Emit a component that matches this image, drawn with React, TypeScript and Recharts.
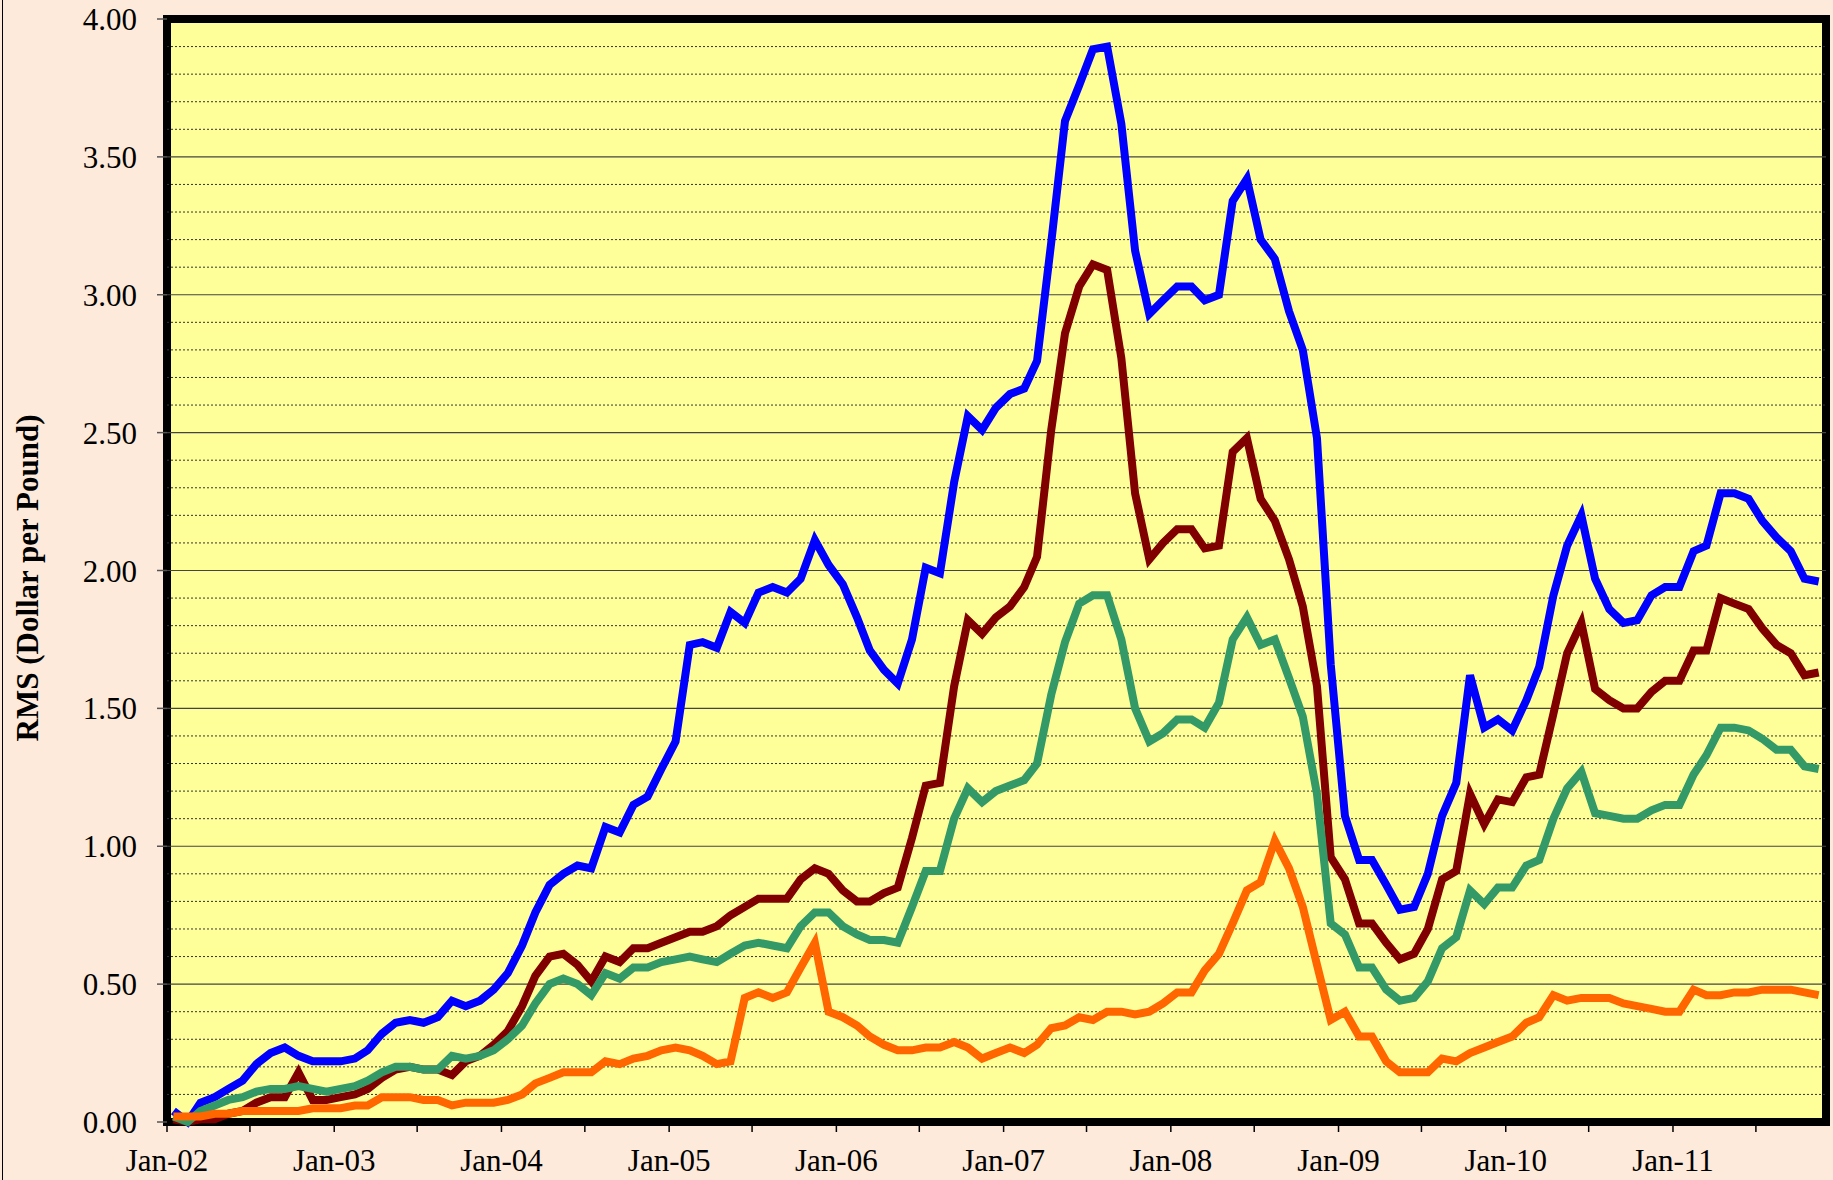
import { LineChart, Line, XAxis, YAxis, CartesianGrid, Label, ReferenceLine, ReferenceArea } from 'recharts'

const W = 1833
const H = 1180
const FONT = '"Times New Roman", "Liberation Serif", serif'

// monthly values, Jan-02 .. Nov-11 (one row per year)
const blueSeries = [
  0.04, 0.0, 0.07, 0.09, 0.12, 0.15, 0.21, 0.25, 0.27, 0.24, 0.22, 0.22,
  0.22, 0.23, 0.26, 0.32, 0.36, 0.37, 0.36, 0.38, 0.44, 0.42, 0.44, 0.48,
  0.54, 0.64, 0.76, 0.86, 0.9, 0.93, 0.92, 1.07, 1.05, 1.15, 1.18, 1.28,
  1.38, 1.73, 1.74, 1.72, 1.85, 1.81, 1.92, 1.94, 1.92, 1.97, 2.11, 2.02,
  1.95, 1.83, 1.71, 1.64, 1.59, 1.75, 2.01, 1.99, 2.32, 2.56, 2.51, 2.59,
  2.64, 2.66, 2.76, 3.19, 3.63, 3.76, 3.89, 3.9, 3.62, 3.16, 2.93, 2.98,
  3.03, 3.03, 2.98, 3.0, 3.34, 3.42, 3.2, 3.13, 2.94, 2.8, 2.48, 1.66,
  1.11, 0.95, 0.95, 0.86, 0.77, 0.78, 0.9, 1.11, 1.23, 1.62, 1.43, 1.46,
  1.42, 1.53, 1.65, 1.91, 2.09, 2.2, 1.97, 1.86, 1.81, 1.82, 1.91, 1.94,
  1.94, 2.07, 2.09, 2.28, 2.28, 2.26, 2.18, 2.12, 2.07, 1.97, 1.96,
]

const maroonSeries = [
  0.01, 0.0, 0.01, 0.01, 0.03, 0.04, 0.07, 0.09, 0.09, 0.18, 0.08, 0.08,
  0.09, 0.1, 0.12, 0.16, 0.19, 0.2, 0.19, 0.19, 0.17, 0.22, 0.24, 0.28,
  0.33, 0.42, 0.53, 0.6, 0.61, 0.57, 0.51, 0.6, 0.58, 0.63, 0.63, 0.65,
  0.67, 0.69, 0.69, 0.71, 0.75, 0.78, 0.81, 0.81, 0.81, 0.88, 0.92, 0.9,
  0.84, 0.8, 0.8, 0.83, 0.85, 1.03, 1.22, 1.23, 1.58, 1.82, 1.77, 1.83,
  1.87, 1.94, 2.05, 2.51, 2.86, 3.03, 3.11, 3.09, 2.77, 2.28, 2.04, 2.1,
  2.15, 2.15, 2.08, 2.09, 2.43, 2.48, 2.26, 2.18, 2.04, 1.87, 1.58, 0.96,
  0.88, 0.72, 0.72, 0.65, 0.59, 0.61, 0.7, 0.88, 0.91, 1.19, 1.08, 1.17,
  1.16, 1.25, 1.26, 1.48, 1.7, 1.81, 1.57, 1.53, 1.5, 1.5, 1.56, 1.6,
  1.6, 1.71, 1.71, 1.9, 1.88, 1.86, 1.79, 1.73, 1.7, 1.62, 1.63,
]

const greenSeries = [
  0.02, 0.0, 0.04, 0.06, 0.08, 0.09, 0.11, 0.12, 0.12, 0.13, 0.12, 0.11,
  0.12, 0.13, 0.15, 0.18, 0.2, 0.2, 0.19, 0.19, 0.24, 0.23, 0.24, 0.26,
  0.3, 0.35, 0.43, 0.5, 0.52, 0.5, 0.46, 0.54, 0.52, 0.56, 0.56, 0.58,
  0.59, 0.6, 0.59, 0.58, 0.61, 0.64, 0.65, 0.64, 0.63, 0.71, 0.76, 0.76,
  0.71, 0.68, 0.66, 0.66, 0.65, 0.78, 0.91, 0.91, 1.1, 1.21, 1.16, 1.2,
  1.22, 1.24, 1.3, 1.55, 1.74, 1.88, 1.91, 1.91, 1.75, 1.5, 1.38, 1.41,
  1.46, 1.46, 1.43, 1.52, 1.75, 1.83, 1.73, 1.75, 1.61, 1.47, 1.19, 0.72,
  0.68, 0.56, 0.56, 0.48, 0.44, 0.45, 0.51, 0.63, 0.67, 0.84, 0.79, 0.85,
  0.85, 0.93, 0.95, 1.1, 1.21, 1.27, 1.12, 1.11, 1.1, 1.1, 1.13, 1.15,
  1.15, 1.26, 1.33, 1.43, 1.43, 1.42, 1.39, 1.35, 1.35, 1.29, 1.28,
]

const orangeSeries = [
  0.02, 0.02, 0.02, 0.03, 0.03, 0.04, 0.04, 0.04, 0.04, 0.04, 0.05, 0.05,
  0.05, 0.06, 0.06, 0.09, 0.09, 0.09, 0.08, 0.08, 0.06, 0.07, 0.07, 0.07,
  0.08, 0.1, 0.14, 0.16, 0.18, 0.18, 0.18, 0.22, 0.21, 0.23, 0.24, 0.26,
  0.27, 0.26, 0.24, 0.21, 0.22, 0.45, 0.47, 0.45, 0.47, 0.56, 0.65, 0.4,
  0.38, 0.35, 0.31, 0.28, 0.26, 0.26, 0.27, 0.27, 0.29, 0.27, 0.23, 0.25,
  0.27, 0.25, 0.28, 0.34, 0.35, 0.38, 0.37, 0.4, 0.4, 0.39, 0.4, 0.43,
  0.47, 0.47, 0.55, 0.61, 0.72, 0.84, 0.87, 1.02, 0.92, 0.78, 0.57, 0.37,
  0.4, 0.31, 0.31, 0.22, 0.18, 0.18, 0.18, 0.23, 0.22, 0.25, 0.27, 0.29,
  0.31, 0.36, 0.38, 0.46, 0.44, 0.45, 0.45, 0.45, 0.43, 0.42, 0.41, 0.4,
  0.4, 0.48, 0.46, 0.46, 0.47, 0.47, 0.48, 0.48, 0.48, 0.47, 0.46,
]

// tick every 6 months, label only on January
const xTickLabels = [
  'Jan-02', '', 'Jan-03', '', 'Jan-04', '', 'Jan-05', '', 'Jan-06', '',
  'Jan-07', '', 'Jan-08', '', 'Jan-09', '', 'Jan-10', '', 'Jan-11', '',
]
const yTicks = [0, 0.5, 1, 1.5, 2, 2.5, 3, 3.5, 4]

const xStart = Date.UTC(2002, 0, 1)
const xEnd = Date.UTC(2011, 11, 1)
const xTicks = xTickLabels.map((_, i) => Date.UTC(2002 + Math.floor(i / 2), (i % 2) * 6, 1))

// dotted lines every 0.1, solid ones on the labelled ticks
const minorGrid = Array.from({ length: 39 }, (_, i) => (i + 1) / 10).filter((v) => Math.round(v * 10) % 5 !== 0)
const majorGrid = yTicks.slice(1, -1)

// data points sit mid-month
const data = blueSeries.map((b, i) => ({
  t: Date.UTC(2002 + Math.floor(i / 12), i % 12, 15),
  blue: b,
  maroon: maroonSeries[i],
  green: greenSeries[i],
  orange: orangeSeries[i],
}))

const tickStyle = { fontSize: 31, fill: '#000', fontFamily: FONT }

function YTitle() {
  return (
    <text
      x={27}
      y={578}
      transform="rotate(-90 27 578)"
      textAnchor="middle"
      dominantBaseline="central"
      fontFamily={FONT}
      fontSize={31}
      fontWeight="bold"
      fill="#000"
    >
      RMS (Dollar per Pound)
    </text>
  )
}

export default function App() {
  return (
    <div
      style={{
        position: 'absolute',
        left: 0,
        top: 0,
        width: W,
        height: H,
        background: '#FDEADA',
        overflow: 'hidden',
      }}
    >
      <div style={{ position: 'absolute', left: 2, top: 0, width: 1, height: H, background: '#000' }} />
      <LineChart width={W} height={H} data={data} margin={{ top: 19, right: 7, bottom: 0, left: 0 }}>
        <CartesianGrid horizontal={false} vertical={false} fill="#FFFF99" />
        {minorGrid.map((v) => (
          <ReferenceLine key={`mn${v}`} y={v} stroke="#333" strokeWidth={1} strokeDasharray="2 2" />
        ))}
        {majorGrid.map((v) => (
          <ReferenceLine key={`mj${v}`} y={v} stroke="#444" strokeWidth={1.2} />
        ))}
        <XAxis
          dataKey="t"
          type="number"
          domain={[xStart, xEnd]}
          ticks={xTicks}
          interval={0}
          tickFormatter={(v: number) => xTickLabels[xTicks.indexOf(v)] ?? ''}
          tick={tickStyle}
          tickLine={{ stroke: '#000', strokeWidth: 1.5 }}
          tickSize={10}
          tickMargin={17}
          axisLine={false}
          height={58}
          allowDataOverflow
        />
        <YAxis
          domain={[0, 4]}
          ticks={yTicks}
          interval={0}
          tickFormatter={(v: number) => v.toFixed(2)}
          tick={tickStyle}
          tickLine={{ stroke: '#555', strokeWidth: 1.5 }}
          tickSize={10}
          tickMargin={20}
          axisLine={false}
          width={167}
        >
          <Label content={() => <YTitle />} />
        </YAxis>
        <Line type="linear" dataKey="blue" stroke="#0000FF" strokeWidth={8} dot={false} isAnimationActive={false} />
        <Line type="linear" dataKey="maroon" stroke="#800000" strokeWidth={8} dot={false} isAnimationActive={false} />
        <Line type="linear" dataKey="green" stroke="#339966" strokeWidth={8} dot={false} isAnimationActive={false} />
        <Line type="linear" dataKey="orange" stroke="#FF6600" strokeWidth={8} dot={false} isAnimationActive={false} />
        <ReferenceArea
          x1={xStart}
          x2={xEnd}
          y1={0}
          y2={4}
          fill="none"
          fillOpacity={0}
          stroke="#000"
          strokeWidth={8}
          strokeOpacity={1}
          ifOverflow="visible"
        />
      </LineChart>
    </div>
  )
}
